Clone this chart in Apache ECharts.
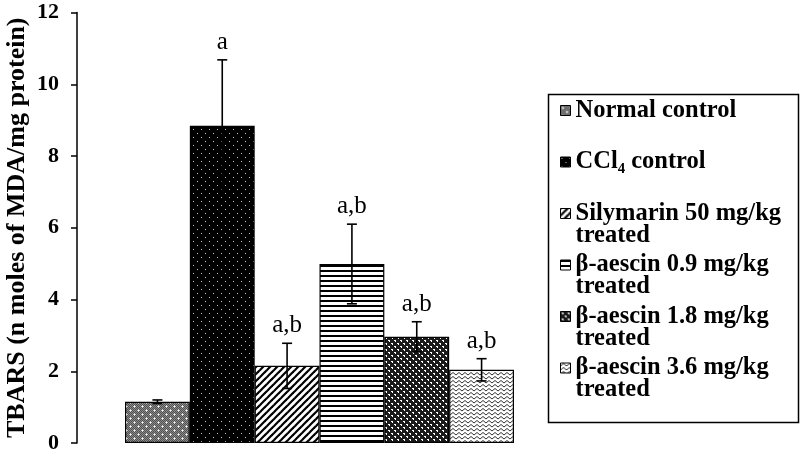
<!DOCTYPE html>
<html><head><meta charset="utf-8">
<script src="https://cdn.jsdelivr.net/npm/echarts@6/dist/echarts.min.js"></script>
<style>html,body{margin:0;padding:0;background:#fff}#c{width:800px;height:457px}</style>
</head><body><div id="c"></div>
<script>
// ---- data ----
const groups = ['Normal control', 'CCl₄ control', 'Silymarin 50 mg/kg treated', 'β-aescin 0.9 mg/kg treated', 'β-aescin 1.8 mg/kg treated', 'β-aescin 3.6 mg/kg treated'];
const legendLine1 = ['Normal control', 'CCl₄ control', 'Silymarin 50 mg/kg', 'β-aescin 0.9 mg/kg', 'β-aescin 1.8 mg/kg', 'β-aescin 3.6 mg/kg'];
const legendLine2 = ['', '', 'treated', 'treated', 'treated', 'treated'];
const means = [1.15, 8.84, 2.15, 4.99, 2.96, 2.04];
const errors = [0.05, 1.84, 0.63, 1.11, 0.42, 0.31];
const sigLabels = ['', 'a', 'a,b', 'a,b', 'a,b', 'a,b'];
const yTicks = [0, 2, 4, 6, 8, 10, 12];
const yTitle = 'TBARS (n moles of MDA/mg protein)';

// ---- fill patterns ----
function pat(w, h, draw) {
  const c = document.createElement('canvas'); c.width = w; c.height = h;
  const g = c.getContext('2d'); draw(g, w, h);
  return { image: c, repeat: 'repeat' };
}
const patterns = [
  pat(8, 8, (g, w, h) => {
    g.fillStyle = '#8a8a8a'; g.fillRect(0, 0, w, h);
    g.fillStyle = '#505050';
    for (let x = 0; x < w; x++) for (let y = 0; y < h; y++) if ((x + y) % 2 === 0) g.fillRect(x, y, 1, 1);
    g.fillStyle = '#fff'; g.fillRect(2, 2, 1, 1); g.fillRect(6, 6, 1, 1);
    g.fillStyle = '#d0d0d0'; g.fillRect(1, 2, 1, 1); g.fillRect(3, 2, 1, 1); g.fillRect(2, 1, 1, 1); g.fillRect(2, 3, 1, 1);
    g.fillRect(5, 6, 1, 1); g.fillRect(7, 6, 1, 1); g.fillRect(6, 5, 1, 1); g.fillRect(6, 7, 1, 1);
  }),
  pat(8, 8, (g, w, h) => {
    g.fillStyle = '#000'; g.fillRect(0, 0, w, h);
    g.fillStyle = '#c8c8c8'; g.fillRect(1, 1, 1, 1); g.fillRect(5, 5, 1, 1);
  }),
  pat(7, 7, (g, w, h) => {
    g.fillStyle = '#fff'; g.fillRect(0, 0, w, h);
    g.strokeStyle = '#000'; g.lineWidth = 2.2;
    [[-3, 10, 10, -3], [-10, 10, 3, -3], [4, 10, 17, -3]].forEach(l => { g.beginPath(); g.moveTo(l[0], l[1]); g.lineTo(l[2], l[3]); g.stroke(); });
  }),
  pat(4, 5, (g, w, h) => {
    g.fillStyle = '#fff'; g.fillRect(0, 0, w, h);
    g.fillStyle = '#000'; g.fillRect(0, 0, w, 2);
  }),
  pat(6, 6, (g, w, h) => {
    g.fillStyle = '#1a1a1a'; g.fillRect(0, 0, w, h);
    g.fillStyle = '#fff'; g.fillRect(1, 1, 2, 1); g.fillRect(4, 4, 2, 1);
    g.fillRect(2, 2, 1, 1); g.fillRect(5, 5, 1, 1);
  }),
  pat(6, 4, (g, w, h) => {
    g.fillStyle = '#fff'; g.fillRect(0, 0, w, h);
    g.strokeStyle = '#333'; g.lineWidth = 1;
    g.beginPath(); g.moveTo(0, 3); g.lineTo(3, 0.5); g.lineTo(6, 3); g.stroke();
  })
];

const FONT = 'Liberation Serif';
const chart = echarts.init(document.getElementById('c'), null, { renderer: 'canvas' });

const barSeries = groups.map((name, i) => ({
  name: name,
  type: 'bar',
  barWidth: '100%',
  barGap: '-100%',
  data: means.map((v, j) => (j === i ? v : '-')),
  itemStyle: { color: patterns[i], borderColor: '#000', borderWidth: 1.2 },
  emphasis: { disabled: true },
  z: 2
}));

const errSeries = {
  type: 'custom',
  name: 'err',
  z: 5,
  data: means.map((m, i) => [i, m - errors[i], m + errors[i]]),
  encode: { x: 0, y: [1, 2] },
  renderItem: function (params, api) {
    const i = api.value(0);
    const lo = api.coord([i, api.value(1)]);
    const hi = api.coord([i, api.value(2)]);
    const cw = 5;
    const st = { stroke: '#000', lineWidth: 1.6 };
    const children = [
      { type: 'line', shape: { x1: lo[0], y1: lo[1], x2: hi[0], y2: hi[1] }, style: st },
      { type: 'line', shape: { x1: hi[0] - cw, y1: hi[1], x2: hi[0] + cw, y2: hi[1] }, style: st },
      { type: 'line', shape: { x1: lo[0] - cw, y1: lo[1], x2: lo[0] + cw, y2: lo[1] }, style: st }
    ];
    if (sigLabels[i]) {
      children.push({
        type: 'text',
        style: { text: sigLabels[i], x: hi[0], y: hi[1] - 5, align: 'center', verticalAlign: 'bottom',
          font: '25px "' + FONT + '"', fill: '#000' }
      });
    }
    return { type: 'group', children: children };
  }
};

chart.setOption({
  animation: false,
  backgroundColor: '#fff',
  grid: { left: 125, right: 286, top: 12.5, bottom: 14 },
  xAxis: {
    type: 'category', data: groups,
    axisLine: { show: false }, axisTick: { show: false }, axisLabel: { show: false }, splitLine: { show: false }
  },
  yAxis: {
    type: 'value', min: yTicks[0], max: yTicks[yTicks.length - 1], interval: yTicks[1] - yTicks[0],
    offset: 48,
    name: yTitle, nameLocation: 'middle', nameGap: 47,
    nameTextStyle: { fontFamily: FONT, fontWeight: 'bold', fontSize: 26, color: '#000' },
    axisLine: { show: true, lineStyle: { color: '#000', width: 1.5 } },
    axisTick: { show: true, length: 6, lineStyle: { color: '#000', width: 1.5 } },
    axisLabel: { fontFamily: FONT, fontWeight: 'bold', fontSize: 22, color: '#000', margin: 18 },
    splitLine: { show: false }
  },
  legend: {
    data: groups,
    orient: 'vertical',
    left: 560, top: 76,
    padding: 0,
    itemWidth: 10, itemHeight: 10,
    itemGap: -17.5,
    selectedMode: false,
    icon: 'rect',
    itemStyle: { borderColor: '#000', borderWidth: 1 },
    formatter: function (name) {
      const i = groups.indexOf(name);
      return ' \n' + legendLine1[i] + '\n' + (legendLine2[i] || ' ');
    },
    textStyle: { fontFamily: FONT, fontWeight: 'bold', fontSize: 24.5, lineHeight: 22, color: '#000' }
  },
  graphic: [{
    type: 'rect', left: 546, top: 92, shape: { width: 250, height: 328 },
    style: { fill: 'none', stroke: '#000', lineWidth: 1.5 }, z: 10
  }],
  series: barSeries.concat([errSeries])
});
</script></body></html>
